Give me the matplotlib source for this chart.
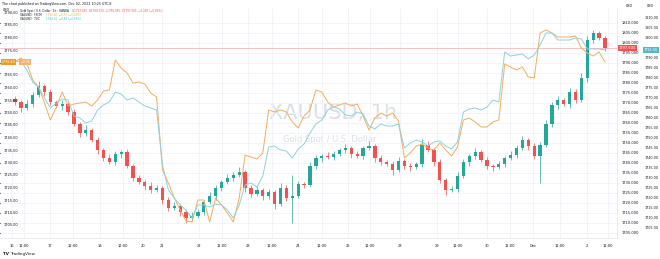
import matplotlib
matplotlib.use("Agg")
import matplotlib.pyplot as plt
import matplotlib.transforms as mtransforms
from matplotlib.ticker import NullFormatter
import numpy as np

UP = "#26a69a"
DOWN = "#ef5350"
ORANGE = "#f2ad5c"
CYAN = "#8ed1db"
TXT = "#131722"
GRID = "#f0f3fa"
MARK = "#dcdfe6"

# XAUUSD 1h candles (main right scale), open of bar i = close of bar i-1
first_open = 1772.0
closes = [1770.5, 1767.5, 1769.5, 1774.0, 1778.5, 1775.5, 1770.5, 1768.5, 1769.5, 1765.5,
          1759.5, 1755.0, 1756.5, 1751.5, 1746.5, 1742.5, 1740.5, 1744.5, 1745.5, 1738.5,
          1732.5, 1730.5, 1728.5, 1726.5, 1727.5, 1721.5, 1717.5, 1718.5, 1715.5, 1712.5,
          1713.5, 1715.5, 1720.5, 1723.5, 1727.5, 1730.5, 1732.5, 1734.0, 1735.5, 1727.5,
          1724.5, 1726.5, 1723.5, 1725.5, 1719.5, 1727.5, 1722.5, 1723.5, 1729.5, 1729.0,
          1738.5, 1742.5, 1743.5, 1743.0, 1744.5, 1746.5, 1747.5, 1744.5, 1743.5, 1747.5,
          1748.5, 1742.5, 1740.5, 1739.5, 1736.5, 1741.0, 1738.5, 1738.0, 1739.5, 1749.0,
          1746.5, 1740.5, 1731.5, 1726.5, 1727.0, 1733.5, 1740.5, 1743.5, 1745.5, 1741.5,
          1738.5, 1738.0, 1739.5, 1742.5, 1744.0, 1747.5, 1751.5, 1748.5, 1743.5, 1749.0,
          1759.5, 1769.0, 1771.5, 1769.5, 1775.5, 1771.5, 1782.5, 1801.5, 1805.0, 1802.5,
          1797.5]
wick_up = [1.5, 1.0, 2.0, 1.5, 2.5, 1.0, 1.5, 1.0, 2.0, 1.0,
           1.5, 1.0, 2.5, 1.0, 1.5, 1.0, 2.0, 1.5, 1.0, 1.5,
           1.0, 1.5, 1.0, 2.0, 1.5, 1.0, 1.5, 2.0, 1.0, 1.5,
           2.0, 1.5, 1.0, 2.0, 1.5, 1.0, 2.0, 1.5, 2.5, 1.0,
           1.5, 2.0, 1.0, 1.5, 1.0, 2.5, 1.5, 10.5, 1.5, 1.0,
           2.0, 1.5, 1.0, 2.0, 1.5, 1.0, 2.0, 1.0, 1.5, 1.0,
           2.5, 1.0, 1.5, 1.0, 1.5, 2.0, 1.0, 1.5, 1.0, 3.0,
           2.0, 1.0, 1.5, 1.0, 1.5, 2.0, 1.5, 1.0, 2.0, 1.0,
           1.5, 1.0, 1.5, 1.0, 2.0, 1.5, 2.0, 1.0, 1.5, 1.5,
           2.0, 1.5, 2.0, 1.0, 2.0, 1.5, 2.5, 2.0, 1.5, 1.0,
           1.0]
wick_dn = [1.5, 2.0, 1.0, 1.5, 1.0, 2.0, 1.5, 1.0, 2.0, 1.5,
           1.0, 2.0, 1.5, 1.0, 2.0, 1.5, 1.0, 1.5, 2.0, 1.0,
           1.5, 1.0, 2.0, 1.5, 1.0, 2.0, 1.5, 1.0, 2.0, 2.5,
           1.5, 1.0, 1.5, 1.0, 2.0, 1.5, 1.0, 1.5, 1.0, 2.0,
           1.5, 1.0, 2.0, 1.5, 2.5, 1.0, 1.5, 12.5, 1.0, 1.5,
           1.0, 1.5, 2.0, 1.0, 1.5, 1.0, 1.5, 2.0, 1.0, 1.5,
           1.0, 2.0, 1.5, 1.0, 2.5, 1.0, 1.5, 2.0, 1.0, 1.5,
           1.0, 2.0, 1.5, 2.5, 1.0, 1.5, 1.0, 2.0, 1.5, 1.0,
           1.5, 2.0, 1.0, 1.5, 1.0, 1.5, 1.0, 2.0, 1.5, 13.5,
           1.0, 1.5, 2.0, 1.0, 2.0, 1.5, 1.0, 2.0, 1.5, 1.0,
           1.5]

# compared symbol on the left scale (orange)
gold_fx = [1770.4, 1772.0, 1770.0, 1763.2, 1760.4, 1754.0, 1747.2, 1752.4, 1758.4, 1752.8,
           1753.6, 1754.0, 1754.4, 1752.8, 1755.2, 1758.8, 1759.2, 1771.2, 1768.0, 1766.0,
           1762.0, 1762.4, 1761.6, 1758.0, 1756.4, 1727.2, 1722.0, 1716.0, 1711.2, 1706.8,
           1706.4, 1715.2, 1715.2, 1706.4, 1716.0, 1713.2, 1710.0, 1706.4, 1716.0, 1733.2,
           1732.4, 1731.6, 1734.0, 1751.2, 1750.4, 1751.2, 1750.4, 1746.4, 1744.0, 1748.8,
           1751.2, 1759.2, 1758.4, 1754.4, 1752.4, 1753.2, 1754.0, 1752.8, 1753.6, 1748.8,
           1743.2, 1748.0, 1750.0, 1748.8, 1750.0, 1746.8, 1732.0, 1734.0, 1736.8, 1737.6,
           1736.0, 1735.2, 1738.0, 1735.2, 1732.8, 1736.4, 1747.2, 1748.0, 1746.4, 1744.4,
           1744.4, 1746.4, 1747.2, 1769.6, 1768.4, 1767.2, 1768.4, 1764.4, 1764.0, 1782.0,
           1783.2, 1782.0, 1780.4, 1780.4, 1780.4, 1780.8, 1776.0, 1774.0, 1772.8, 1774.4,
           1770.4]

# compared symbol on the second right scale (light cyan)
gold_tvc = [1788.0, 1788.5, 1784.0, 1778.0, 1775.5, 1770.0, 1765.0, 1767.5, 1769.5, 1769.0,
            1761.0, 1760.0, 1757.5, 1758.5, 1764.0, 1766.5, 1768.0, 1773.0, 1772.0, 1769.0,
            1770.0, 1768.0, 1766.0, 1765.0, 1764.0, 1736.5, 1724.0, 1720.0, 1716.5, 1714.0,
            1710.0, 1716.5, 1716.5, 1715.5, 1717.0, 1716.5, 1714.0, 1710.0, 1716.5, 1726.5,
            1727.5, 1725.5, 1731.0, 1745.5, 1746.0, 1744.0, 1743.5, 1740.0, 1744.5, 1747.0,
            1752.5, 1757.0, 1759.0, 1764.0, 1765.5, 1764.5, 1761.5, 1761.0, 1763.0, 1762.0,
            1756.0, 1754.5, 1757.0, 1756.0, 1756.0, 1757.0, 1745.0, 1747.5, 1749.0, 1748.0,
            1746.0, 1748.0, 1748.5, 1746.0, 1744.5, 1748.0, 1763.0, 1764.5, 1765.0, 1764.0,
            1765.5, 1769.0, 1768.0, 1793.0, 1791.0, 1791.5, 1792.0, 1789.5, 1791.5, 1796.5,
            1802.5, 1802.5, 1799.0, 1799.0, 1799.0, 1800.0, 1799.5, 1794.5, 1794.5, 1794.5,
            1794.0]

# time axis (bar index of each label)
tick_pos = [-0.5, 1.5, 5.9, 9.8, 14.4, 18.3, 21.7, 24.9, 31.2, 35.1, 39.5, 43.6, 48.0,
            52.0, 56.4, 60.2, 65.3, 71.5, 75.1, 80.0, 83.9, 87.8, 92.4, 96.9, 100.5]
tick_labels = ["16", "12:00", "17", "12:00", "18", "12:00", "20", "21", "22", "12:00",
               "23", "12:00", "24", "12:00", "25", "12:00", "28", "29", "12:00", "30",
               "12:00", "Dec", "12:00", "2", "12:00"]

main_ticks = np.arange(1705, 1811, 5)
left_ticks = np.arange(1705, 1791, 5)
cyan_ticks = np.arange(1705, 1811, 5)

W, H = 660, 259


def draw_candles(ax):
    c = np.array(closes)
    o = np.concatenate([[first_open], c[:-1]])
    hi = np.maximum(o, c) + np.array(wick_up)
    lo = np.minimum(o, c) - np.array(wick_dn)
    x = np.arange(len(c))
    colors = np.where(c >= o, UP, DOWN)
    ax.vlines(x, lo, hi, colors=colors, lw=0.5, zorder=2)
    body = c - o
    body = np.where(np.abs(body) < 0.4, 0.4, body)
    ax.bar(x, body, bottom=o, width=0.55, color=colors, linewidth=0, zorder=3)


def main():
    fig = plt.figure(figsize=(W / 100, H / 100), dpi=100)
    fig.patch.set_facecolor("white")
    ax = fig.add_axes([0, (H - 238) / H, 617 / W, 230 / H])
    ax.set_xlim(-2.54, 102.03)
    ax.set_ylim(1702.5, 1817.5)

    # watermark
    ax.text(0.54, 0.545, "XAUUSD, 1h", transform=ax.transAxes, ha="center", va="center",
            fontsize=15, color=MARK, zorder=0)
    ax.text(0.535, 0.43, "Gold Spot / U.S. Dollar", transform=ax.transAxes, ha="center",
            va="center", fontsize=6, color=MARK, zorder=0)

    draw_candles(ax)
    ax.axhline(closes[-1], color=DOWN, lw=0.5, alpha=0.5, zorder=1)

    # grid only on the main pane; its price labels go on a twin below
    ax.set_xticks(tick_pos, tick_labels)
    ax.set_yticks(main_ticks)
    ax.yaxis.set_major_formatter(NullFormatter())
    ax.tick_params(axis="y", left=False, labelleft=False, right=False)
    ax.tick_params(axis="x", labelsize=2.6, length=0, pad=4, colors=TXT)
    ax.grid(True, color=GRID, lw=0.6)
    ax.set_axisbelow(True)
    for s in ["top", "left"]:
        ax.spines[s].set_visible(False)
    for s in ["bottom", "right"]:
        ax.spines[s].set_color("#e0e3eb")
        ax.spines[s].set_linewidth(0.5)

    # left scale (orange), labels drawn inside the pane
    ax2 = ax.twinx()
    ax2.set_ylim(1700.0, 1792.0)
    ax2.plot(np.arange(len(gold_fx)), gold_fx, color=ORANGE, lw=0.7)
    ax2.set_yticks([])
    tr_left = mtransforms.blended_transform_factory(ax.transAxes, ax2.transData)
    for v in left_ticks:
        if abs(v - gold_fx[-1]) < 3:
            continue
        ax2.text(0.006, v, "%.2f" % v, transform=tr_left, ha="left", va="center",
                 fontsize=2.5, color=TXT)
    for s in ax2.spines.values():
        s.set_visible(False)

    # second right scale (cyan)
    ax3 = ax.twinx()
    ax3.set_ylim(1700.0, 1815.0)
    ax3.plot(np.arange(len(gold_tvc)), gold_tvc, color=CYAN, lw=0.7)
    ax3.spines["right"].set_position(("outward", 19))
    cyan_shown = [v for v in cyan_ticks if abs(v - gold_tvc[-1]) >= 2.5]
    ax3.set_yticks(cyan_shown, ["%.2f" % v for v in cyan_shown])
    ax3.tick_params(axis="y", labelsize=2.4, length=0, pad=1.0, colors=TXT)
    for s in ax3.spines.values():
        s.set_visible(False)

    # main price scale labels
    ax4 = ax.twinx()
    ax4.set_ylim(ax.get_ylim())
    ax4.set_yticks(main_ticks, ["%.3f" % v for v in main_ticks])
    ax4.tick_params(axis="y", labelsize=2.6, length=0, pad=3.5, colors=TXT)
    for s in ax4.spines.values():
        s.set_visible(False)

    # last value labels
    tr_main = mtransforms.blended_transform_factory(ax.transAxes, ax.transData)
    tr_cyan = mtransforms.blended_transform_factory(ax.transAxes, ax3.transData)
    ax4.text(1.003, closes[-1], "%.3f" % closes[-1], transform=tr_main, ha="left", va="center",
             fontsize=2.6, color="white", clip_on=False, zorder=10,
             bbox=dict(boxstyle="square,pad=0.25", fc=DOWN, ec="none"))
    ax4.text(1.0435, gold_tvc[-1], "%.2f" % gold_tvc[-1], transform=tr_cyan, ha="left",
             va="center", fontsize=2.4, color="white", clip_on=False, zorder=10,
             bbox=dict(boxstyle="square,pad=0.25", fc="#4fb8c9", ec="none"))
    ax4.text(0.003, gold_fx[-1], "%.2f" % gold_fx[-1], transform=tr_left, ha="left",
             va="center", fontsize=2.3, color="white", clip_on=False, zorder=10,
             bbox=dict(boxstyle="square,pad=0.3", fc="#f09a2c", ec="none"))
    ax4.text(0.033, gold_fx[-1], "\u22120.70", transform=tr_left, ha="left",
             va="center", fontsize=2.3, color="white", clip_on=False, zorder=10,
             bbox=dict(boxstyle="square,pad=0.3", fc="#f4b461", ec="none"))

    # header and legend
    fig.text(2 / W, 1 - 4 / H, "The chart published on TradingView.com, Dec 02, 2022 10:25 UTC-8",
             fontsize=2.3, color=TXT, va="center")
    fig.text(3 / W, 1 - 10 / H, "USD", fontsize=2.3, color=TXT, va="center")
    fig.text(626 / W, 1 - 6 / H, "USD", fontsize=2.3, color=TXT, va="center")
    fig.text(647 / W, 1 - 6 / H, "USD", fontsize=2.3, color=TXT, va="center")
    fig.text(20 / W, 1 - 11 / H, "Gold Spot / U.S. Dollar \u00b7 1h \u00b7 OANDA", fontsize=2.0,
             color=TXT, va="center")
    fig.text(72 / W, 1 - 11 / H, "O1797.835  H1798.170  L1796.995  C1797.505  \u22120.330 (\u22120.02%)",
             fontsize=2.0, color=DOWN, va="center")
    fig.text(20 / W, 1 - 15 / H, "XAUUSD \u00b7 FXCM", fontsize=2.0, color=TXT, va="center")
    fig.text(46 / W, 1 - 15 / H, "1770.40  \u22120.70 (\u22120.04%)", fontsize=2.0, color=ORANGE,
             va="center")
    fig.text(20 / W, 1 - 19 / H, "XAUUSD \u00b7 TVC", fontsize=2.0, color=TXT, va="center")
    fig.text(46 / W, 1 - 19 / H, "1794.00  \u22120.46 (\u22120.03%)", fontsize=2.0, color="#4fb8c9",
             va="center")
    fig.text(3 / W, 1 - 254 / H, "TV", fontsize=3, weight="bold", color=TXT, va="center")
    fig.text(10 / W, 1 - 254 / H, "TradingView", fontsize=3, color=TXT, va="center")

    fig.savefig("out.png", dpi=100)


if __name__ == "__main__":
    main()
